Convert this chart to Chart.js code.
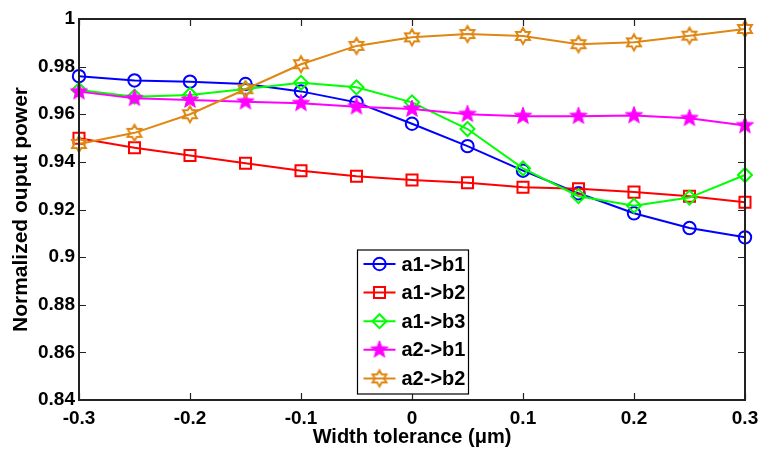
<!DOCTYPE html>
<html>
<head>
<meta charset="utf-8">
<script src="https://cdn.jsdelivr.net/npm/chart.js@4.4.0/dist/chart.umd.min.js"></script>
<style>
html, body { margin: 0; padding: 0; background: #fff; }
</style>
</head>
<body>
<canvas id="chart" width="758" height="453"></canvas>
<script>
// width tolerance (um) on the x axis
var widths = [-0.3, -0.25, -0.2, -0.15, -0.1, -0.05, 0, 0.05, 0.1, 0.15, 0.2, 0.25, 0.3];

// normalized output power per port pair
var a1b1 = [0.976, 0.9742, 0.9737, 0.9727, 0.9696, 0.965, 0.956, 0.9466, 0.9363, 0.9268, 0.9184, 0.9122, 0.9083];
var a1b2 = [0.9499, 0.9459, 0.9427, 0.9394, 0.9363, 0.934, 0.9324, 0.9312, 0.9293, 0.9287, 0.9273, 0.9256, 0.923];
var a1b3 = [0.9702, 0.9674, 0.9681, 0.9706, 0.9732, 0.9713, 0.965, 0.9538, 0.9373, 0.9256, 0.9216, 0.925, 0.9345];
var a2b1 = [0.9695, 0.9667, 0.966, 0.9653, 0.9646, 0.9632, 0.9622, 0.96, 0.9592, 0.9592, 0.9595, 0.9583, 0.9553];
var a2b2 = [0.9475, 0.9522, 0.96, 0.9705, 0.981, 0.9887, 0.9923, 0.9937, 0.9929, 0.9894, 0.9902, 0.993, 0.9958];

var seriesNames = ['a1->b1', 'a1->b2', 'a1->b3', 'a2->b1', 'a2->b2'];
var seriesData = [a1b1, a1b2, a1b3, a2b1, a2b2];
var colors = ['#0000ff', '#ff0000', '#00ff00', '#ff00ff', '#e08612'];

var FONT = "'Liberation Sans', Arial, sans-serif";

// star shaped markers (filled pentagram, hollow hexagram)
function makeStar(n, outer, inner, color, filled) {
    var c = document.createElement('canvas');
    c.width = 24;
    c.height = 24;
    var g = c.getContext('2d');
    g.beginPath();
    for (var i = 0; i < n * 2; i++) {
        var r = (i % 2 == 0) ? outer : inner;
        var a = -Math.PI / 2 + i * Math.PI / n;
        var px = 12 + r * Math.cos(a), py = 12 + r * Math.sin(a);
        if (i == 0) g.moveTo(px, py); else g.lineTo(px, py);
    }
    g.closePath();
    if (filled) {
        g.fillStyle = color;
        g.fill();
        g.lineWidth = 1;
    } else {
        g.lineWidth = 2;
    }
    g.strokeStyle = color;
    g.stroke();
    return c;
}

var markers = ['circle', 'rect', 'rectRot', makeStar(5, 9, 3.8, colors[3], true), makeStar(6, 8, 4.6, colors[4], false)];
var radii = [6.2, 7.8, 7, 8, 8];

function fmt(v) {
    return String(Number(v.toFixed(2)));
}

var datasets = seriesNames.map(function(name, i) {
    return {
        label: name,
        data: widths.map(function(w, j) { return { x: w, y: seriesData[i][j] }; }),
        borderColor: colors[i],
        backgroundColor: 'rgba(0,0,0,0)',
        borderWidth: 2,
        pointStyle: markers[i],
        pointRadius: radii[i],
        pointBorderWidth: 2,
        pointBorderColor: colors[i],
        pointBackgroundColor: 'rgba(0,0,0,0)',
        tension: 0,
        clip: false,
        order: seriesNames.length - i
    };
});

// box around the plot with inward ticks
var framePlugin = {
    id: 'frame',
    afterDatasetsDraw: function(chart) {
        var ctx = chart.ctx, a = chart.chartArea;
        var xs = chart.scales.x, ys = chart.scales.y;
        ctx.save();
        ctx.strokeStyle = '#222';
        ctx.lineWidth = 2;
        ctx.strokeRect(a.left, a.top, a.right - a.left, a.bottom - a.top);
        ctx.lineWidth = 1.2;
        ctx.beginPath();
        xs.ticks.forEach(function(t) {
            var px = Math.round(xs.getPixelForValue(t.value)) + 0.5;
            ctx.moveTo(px, a.bottom); ctx.lineTo(px, a.bottom - 7);
            ctx.moveTo(px, a.top); ctx.lineTo(px, a.top + 7);
        });
        ys.ticks.forEach(function(t) {
            var py = Math.round(ys.getPixelForValue(t.value)) + 0.5;
            ctx.moveTo(a.left, py); ctx.lineTo(a.left + 7, py);
            ctx.moveTo(a.right, py); ctx.lineTo(a.right - 7, py);
        });
        ctx.stroke();
        ctx.restore();
    }
};

// legend box inside the plot, bottom centre
var legendPlugin = {
    id: 'boxLegend',
    afterDraw: function(chart) {
        var ctx = chart.ctx, a = chart.chartArea;
        var w = 111, rowH = 28.6, h = 144;
        var left = Math.round((a.left + a.right) / 2 - w / 2) + 0.5;
        var bottom = a.bottom - 6;
        var top = bottom - h;
        ctx.save();
        ctx.fillStyle = '#fff';
        ctx.fillRect(left, top, w, h);
        ctx.strokeStyle = '#000';
        ctx.lineWidth = 1.2;
        ctx.strokeRect(left, top, w, h);
        ctx.font = 'bold 20px ' + FONT;
        ctx.textBaseline = 'middle';
        chart.data.datasets.forEach(function(ds, i) {
            var y = top + 14 + i * rowH;
            ctx.strokeStyle = ds.borderColor;
            ctx.lineWidth = 2;
            ctx.beginPath();
            ctx.moveTo(left + 6, y);
            ctx.lineTo(left + 38, y);
            ctx.stroke();
            ctx.fillStyle = 'rgba(0,0,0,0)';
            Chart.helpers.drawPoint(ctx, {
                pointStyle: ds.pointStyle,
                radius: ds.pointRadius,
                borderWidth: 2,
                rotation: 0
            }, left + 22, y);
            ctx.fillStyle = '#000';
            ctx.fillText(ds.label, left + 44, y + 1);
        });
        ctx.restore();
    }
};

new Chart(document.getElementById('chart'), {
    type: 'line',
    data: { datasets: datasets },
    options: {
        responsive: false,
        animation: false,
        layout: { padding: { top: 19, right: 13, left: 0, bottom: 0 } },
        plugins: { legend: { display: false }, tooltip: { enabled: false } },
        scales: {
            x: {
                type: 'linear',
                min: -0.3,
                max: 0.3,
                afterFit: function(s) {
                    s.height = 53;
                    s.paddingLeft = 0;
                    s.paddingRight = 0;
                },
                grid: { display: false, drawTicks: false },
                border: { display: false },
                ticks: {
                    stepSize: 0.1,
                    padding: 7,
                    color: '#000',
                    maxRotation: 0,
                    font: { family: FONT, size: 19, weight: 'bold' },
                    callback: function(v) { return fmt(v); }
                },
                title: {
                    display: true,
                    text: 'Width tolerance (\u03bcm)',
                    color: '#000',
                    padding: { top: 0, bottom: 4 },
                    font: { family: FONT, size: 20, weight: 'bold' }
                }
            },
            y: {
                min: 0.84,
                max: 1,
                afterFit: function(s) { s.width = 79; },
                grid: { display: false, drawTicks: false },
                border: { display: false },
                ticks: {
                    stepSize: 0.02,
                    padding: 4,
                    color: '#000',
                    font: { family: FONT, size: 19, weight: 'bold' },
                    callback: function(v) { return fmt(v); }
                },
                title: {
                    display: true,
                    text: 'Normalized ouput power',
                    color: '#000',
                    padding: { top: 9, bottom: 0 },
                    font: { family: FONT, size: 21, weight: 'bold' }
                }
            }
        }
    },
    plugins: [framePlugin, legendPlugin]
});
</script>
</body>
</html>
